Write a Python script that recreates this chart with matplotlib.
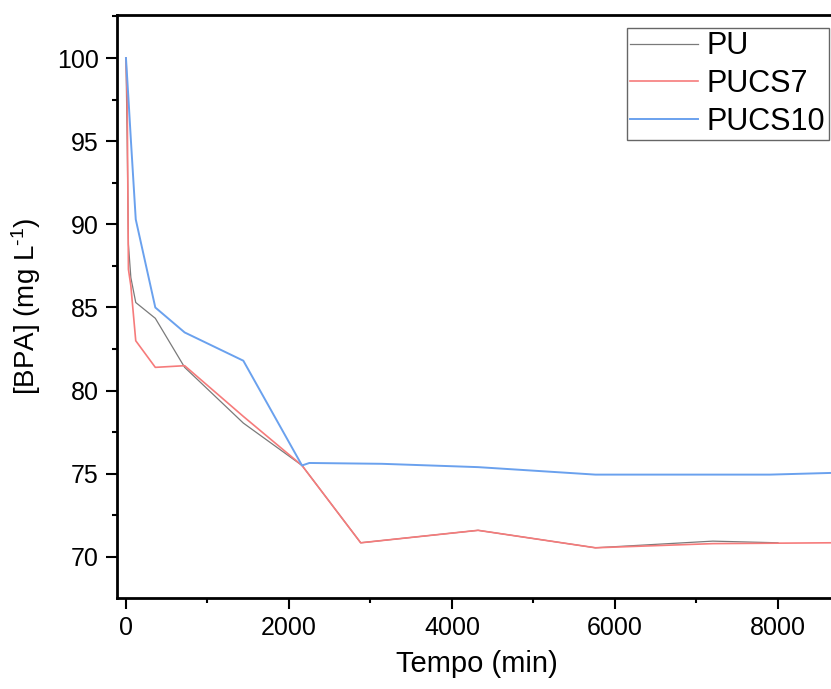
import numpy as np
import matplotlib
matplotlib.use("Agg")
import matplotlib.pyplot as plt
from matplotlib.ticker import MultipleLocator

plt.rcParams['font.family'] = ['Liberation Sans', 'DejaVu Sans']
plt.rcParams['mathtext.fontset'] = 'custom'
plt.rcParams['mathtext.rm'] = 'Liberation Sans'
plt.rcParams['mathtext.it'] = 'Liberation Sans:italic'
plt.rcParams['mathtext.bf'] = 'Liberation Sans:bold'

# dados
t_pu = [0, 15, 30, 60, 120, 360, 720, 1440, 2160, 2880, 4320, 5760, 7200, 8000]
pu = [100, 95.0, 88.8, 86.8, 85.3, 84.35, 81.4, 78.05, 75.5, 70.85, 71.6, 70.55, 70.95, 70.85]

t_pucs7 = [0, 15, 30, 60, 120, 360, 720, 1440, 2160, 2880, 4320, 5760, 7200, 8640]
pucs7 = [100, 97.6, 87.3, 86.3, 83.0, 81.4, 81.5, 78.45, 75.5, 70.85, 71.6, 70.55, 70.8, 70.85]

t_pucs10 = [0, 30, 60, 120, 360, 720, 1440, 2160, 2250, 3140, 4320, 5760, 7900, 8640]
pucs10 = [100, 97.6, 95.1, 90.3, 85.0, 83.5, 81.8, 75.5, 75.65, 75.6, 75.4, 74.95, 74.95, 75.05]

x_ticks = [0, 2000, 4000, 6000, 8000]
y_ticks = [70, 75, 80, 85, 90, 95, 100]

fig = plt.figure(figsize=(8.31, 6.89), dpi=100)
ax = fig.add_axes([117 / 831, 91 / 689, 720 / 831, 583 / 689])

ax.plot(t_pu, pu, color="#7a7a7a", lw=0.9, label="PU")
ax.plot(t_pucs7, pucs7, color="#f67b7b", lw=1.2, label="PUCS7")
ax.plot(t_pucs10, pucs10, color="#6aa1ee", lw=1.4, label="PUCS10")

ax.set_xlim(-110, 8724)
ax.set_ylim(67.53, 102.59)
ax.set_xticks(x_ticks)
ax.set_yticks(y_ticks)
ax.xaxis.set_minor_locator(MultipleLocator(1000))
ax.yaxis.set_minor_locator(MultipleLocator(2.5))

for s in ax.spines.values():
    s.set_linewidth(2.0)
ax.tick_params(which="major", direction="out", length=8, width=1.5, labelsize=18, pad=5)
ax.tick_params(which="minor", direction="out", length=3.5, width=1.5)

ax.set_xlabel("Tempo (min)", fontsize=21, labelpad=7)
ax.set_ylabel("[BPA] (mg L$^{\u2010 1}$)", fontsize=20, labelpad=10)

leg = ax.legend(loc="upper left", bbox_to_anchor=(0.708, 0.978), fontsize=22,
                fancybox=False, frameon=True, edgecolor="#666666", framealpha=1,
                handlelength=2.2, handletextpad=0.3, labelspacing=0.25,
                borderpad=0.12, borderaxespad=0)
leg.get_frame().set_linewidth(1.0)

plt.savefig("out.png", dpi=100)
